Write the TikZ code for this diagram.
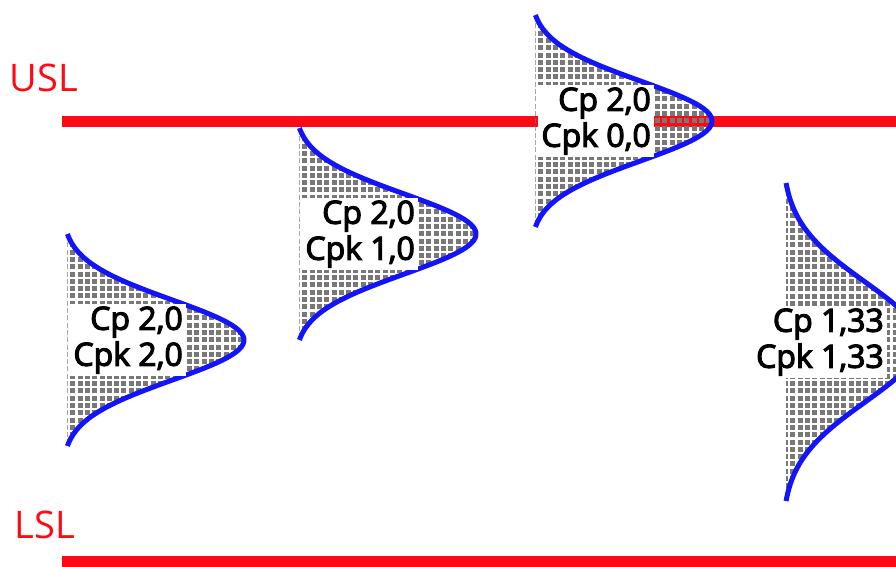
\documentclass[tikz,border=0pt]{standalone}
\usepackage{fontspec}
\setmainfont{Open Sans}
\newfontfamily\cpfont{Open Sans}[RawFeature={embolden=3.5}]
\definecolor{limitred}{RGB}{255,10,20}
\definecolor{bellblue}{RGB}{20,20,250}
\definecolor{dotgray}{RGB}{120,120,120}

\begin{document}
\begin{tikzpicture}[x=1pt, y=-1pt,
    limit/.style={draw=limitred, line width=11pt},
    limitlabel/.style={text=limitred, font=\fontsize{38}{44}\selectfont},
    bell/.style={draw=bellblue, line width=5pt},
    dotrow/.style={draw=dotgray, line width=5pt, dash pattern=on 5pt off 2.3pt},
    cplabel/.style={fill=white, inner sep=3pt, align=right, anchor=east,
      font=\cpfont\fontsize{32}{36}\selectfont}]
  \useasboundingbox (0,0) rectangle (896,566);
  \clip (0,0) rectangle (896,566);

  % spec limits
  \coordinate (usl-l) at (62,121.5);
  \coordinate (usl-r) at (900,121.5);
  \coordinate (lsl-l) at (62,561.5);
  \coordinate (lsl-r) at (900,561.5);
  \draw[limit] (usl-l) -- (usl-r);
  \draw[limit] (lsl-l) -- (lsl-r);
  \node[limitlabel] (usl) at (44,78) {USL};
  \node[limitlabel] (lsl) at (45,525) {LSL};

  % half bells: left x / centre y / sigma / width / label right / Cp / Cpk
  \foreach \bx/\by/\bs/\bw/\lx/\cp/\cpk [count=\i] in {
      62/340/40/182/186/2{,}0/2{,}0,
      294/234/40/182/418/2{,}0/1{,}0,
      530/121/40/182/654/2{,}0/0{,}0,
      782/342/60/137/887/1{,}33/1{,}33}
  {
    \begin{scope}
      \clip plot[domain=-2.65*\bs:2.65*\bs, samples=80, variable=\t]
        ({\bx+\bw*exp(-(\t/\bs)^2/2)}, {\by+\t}) -- cycle;
      \pgfmathsetmacro\rows{int(5.3*\bs/7.3)+1}
      \foreach \r in {0,...,\rows}
        \draw[dotrow] ({\bx+1},{\by-2.65*\bs+3.5+7.3*\r}) -- ++(\bw+10,0);
    \end{scope}
    \draw[bell] plot[domain=-2.65*\bs:2.65*\bs, samples=80, variable=\t]
      ({\bx+\bw*exp(-(\t/\bs)^2/2)}, {\by+\t});
    \node[cplabel] (cp\i) at (\lx,\by) {Cp \cp\\Cpk \cpk};
  }
\end{tikzpicture}
\end{document}
